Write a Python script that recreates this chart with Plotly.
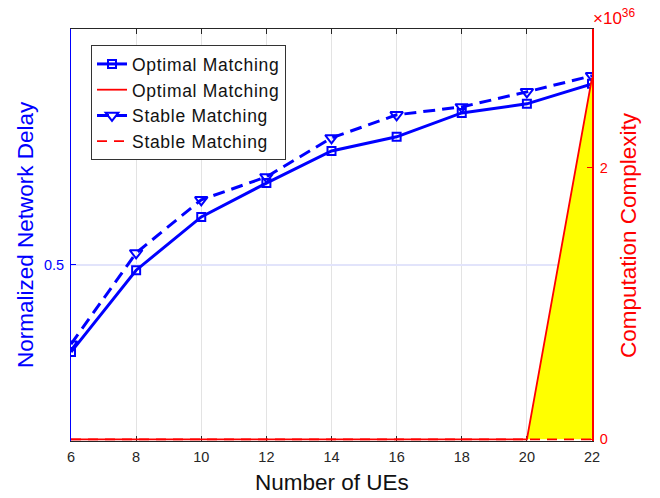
import plotly.graph_objects as go

ues = [6, 8, 10, 12, 14, 16, 18, 20, 22]
delay_optimal = [0.401, 0.494, 0.5545, 0.593, 0.6295, 0.6455, 0.6727, 0.683, 0.7057]
delay_stable = [0.410, 0.5136, 0.574, 0.600, 0.6443, 0.6705, 0.6795, 0.6966, 0.7148]
complexity_optimal = [0, 0, 0, 0, 0, 0, 0, 0, 2.66e36]
complexity_stable = [0, 0, 0, 0, 0, 0, 0, 0, 0]
x_ticks = [6, 8, 10, 12, 14, 16, 18, 20, 22]
names = ["Optimal Matching", "Stable Matching"]

BLUE = "#0000ff"
RED = "#ff0000"
FONT = "Liberation Sans, Arial, Helvetica, sans-serif"


def leg(s):
    return '<span style="letter-spacing:0.7px">' + s + '</span>'


fig = go.Figure()

fig.add_trace(go.Scatter(
    x=ues, y=delay_optimal, name=leg(names[0]), yaxis="y",
    mode="lines+markers",
    line=dict(color=BLUE, width=3),
    marker=dict(symbol="square-open", size=8, color=BLUE, line=dict(width=2, color=BLUE)),
))
fig.add_trace(go.Scatter(
    x=ues, y=complexity_optimal, yaxis="y2", showlegend=False, hoverinfo="skip",
    mode="lines", fill="tozeroy", fillcolor="#ffff00",
    line=dict(color=RED, width=0),
))
fig.add_trace(go.Scatter(
    x=ues, y=complexity_optimal, name=leg(names[0]), yaxis="y2",
    mode="lines", line=dict(color=RED, width=1.8),
))
fig.add_trace(go.Scatter(
    x=ues, y=delay_stable, name=leg(names[1]), yaxis="y",
    mode="lines+markers",
    line=dict(color=BLUE, width=3, dash="12px,7px"),
    marker=dict(symbol="triangle-down-open", size=11, color=BLUE, line=dict(width=2, color=BLUE)),
))
fig.add_trace(go.Scatter(
    x=ues, y=complexity_stable, name=leg(names[1]), yaxis="y2",
    mode="lines", line=dict(color=RED, width=1.8, dash="10px,7px"),
))

fig.update_layout(
    width=660, height=498,
    margin=dict(l=71, r=68, t=29, b=57),
    paper_bgcolor="white", plot_bgcolor="white",
    font=dict(family=FONT, size=14, color="#262626"),
    xaxis=dict(
        range=[6, 22], tickvals=x_ticks, ticks="inside", ticklen=5,
        tickcolor="#262626", showline=True, linecolor="#262626", linewidth=1,
        mirror="ticks", showgrid=True, gridcolor="#e3e3e3", gridwidth=1,
        zeroline=False, tickfont=dict(size=14.5, color="#262626"),
        layer="below traces", ticklabelstandoff=3,
    ),
    yaxis=dict(
        range=[0.3, 0.768], tickvals=[0.5], ticktext=["0.5"], ticks="inside",
        ticklen=5, tickcolor=BLUE, showline=True, linecolor=BLUE, linewidth=1,
        showgrid=True, gridcolor="#e2e4fb", gridwidth=1.5, zeroline=False,
        tickfont=dict(size=14.5, color=BLUE), ticklabelstandoff=3,
    ),
    yaxis2=dict(
        range=[-0.012e36, 3.02e36], tickvals=[0, 2e36], ticktext=["0", "2"],
        overlaying="y", side="right", ticks="inside", ticklen=5, tickcolor=RED,
        showline=True, linecolor=RED, linewidth=1.5, showgrid=False, zeroline=False,
        tickfont=dict(size=14.5, color=RED), ticklabelstandoff=3,
    ),
    legend=dict(
        x=0.0384, y=0.961, xanchor="left", yanchor="top",
        bgcolor="white", bordercolor="#333333", borderwidth=1,
        font=dict(family=FONT, size=17.5, color="#111111"),
        tracegroupgap=0, itemwidth=30,
    ),
    showlegend=True,
)

fig.add_annotation(
    text="Normalized Network Delay", xref="paper", yref="paper",
    x=0, y=0.5, xshift=-46, textangle=-90, showarrow=False,
    xanchor="center", yanchor="middle", font=dict(size=22.5, color=BLUE, family=FONT),
)
fig.add_annotation(
    text="Computation Complexity", xref="paper", yref="paper",
    x=1, y=0.5, xshift=36, textangle=-90, showarrow=False,
    xanchor="center", yanchor="middle", font=dict(size=22.5, color=RED, family=FONT),
)
fig.add_annotation(
    text="Number of UEs", xref="paper", yref="paper",
    x=0.5, y=0, yshift=-41, showarrow=False,
    xanchor="center", yanchor="middle", font=dict(size=22.5, color="#111111", family=FONT),
)
fig.add_annotation(
    text="\u00d710<sup>36</sup>", xref="paper", yref="paper",
    x=1, y=1, xshift=-1, yshift=12, showarrow=False,
    xanchor="left", yanchor="middle", font=dict(size=17, color=RED, family=FONT),
)

fig.write_html("out.html", config={"displayModeBar": False},
               post_script="document.body.style.margin='0';")
